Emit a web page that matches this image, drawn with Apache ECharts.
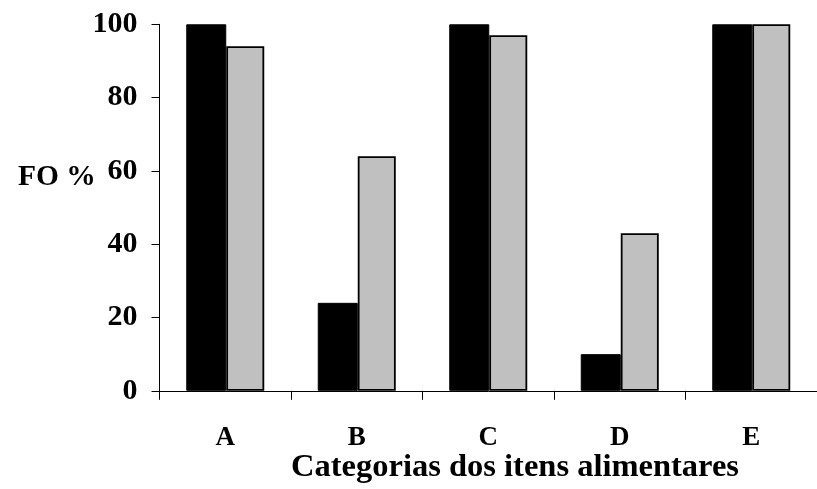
<!DOCTYPE html>
<html>
<head>
<meta charset="utf-8">
<script src="https://cdn.jsdelivr.net/npm/echarts@6/dist/echarts.min.js"></script>
<style>
html,body{margin:0;padding:0;background:#fff;}
#c{width:817px;height:489px;}
</style>
</head>
<body>
<div id="c"></div>
<script>
const categories = ['A', 'B', 'C', 'D', 'E'];
const seriesBlack = [100, 24, 100, 10, 100];
const seriesGray = [94, 64, 97, 43, 100];
const yTicks = [0, 20, 40, 60, 80, 100];
const yAxisTitle = 'FO %';
const xAxisTitle = 'Categorias dos itens alimentares';

const FONT = '"Liberation Serif", "Times New Roman", serif';
const chart = echarts.init(document.getElementById('c'), null, {renderer: 'canvas'});
chart.setOption({
  backgroundColor: '#ffffff',
  animation: false,
  title: [
    {text: yAxisTitle, left: 13, top: 157,
     textStyle: {fontFamily: FONT, fontWeight: 'bold', fontSize: 29.5, color: '#000'}},
    {text: xAxisTitle, left: 510, textAlign: 'center', top: 446,
     textStyle: {fontFamily: FONT, fontWeight: 'bold', fontSize: 32.5, color: '#000'}}
  ],
  grid: {left: 159.5, top: 24.3, width: 666, height: 366.5, containLabel: false},
  xAxis: {
    type: 'category',
    data: categories,
    boundaryGap: true,
    axisLine: {lineStyle: {color: '#000', width: 1}},
    axisTick: {show: true, length: 9, lineStyle: {color: '#000'}, alignWithLabel: false},
    axisLabel: {fontFamily: FONT, fontWeight: 'bold', fontSize: 27, color: '#000', margin: 34}
  },
  yAxis: {
    type: 'value',
    min: yTicks[0],
    max: yTicks[yTicks.length - 1],
    interval: 20,
    axisLine: {show: true, lineStyle: {color: '#000', width: 1}},
    axisTick: {show: true, length: 8, lineStyle: {color: '#000'}},
    splitLine: {show: false},
    axisLabel: {fontFamily: FONT, fontWeight: 'bold', fontSize: 30, color: '#000', margin: 22}
  },
  series: [
    {type: 'bar', data: seriesBlack, barWidth: 40, barGap: '0%',
     itemStyle: {color: '#000000', borderColor: '#000', borderWidth: 1}},
    {type: 'bar', data: seriesGray, barWidth: 38, barGap: '0%',
     itemStyle: {color: '#c0c0c0', borderColor: '#000', borderWidth: 1.8}}
  ]
});
</script>
</body>
</html>
